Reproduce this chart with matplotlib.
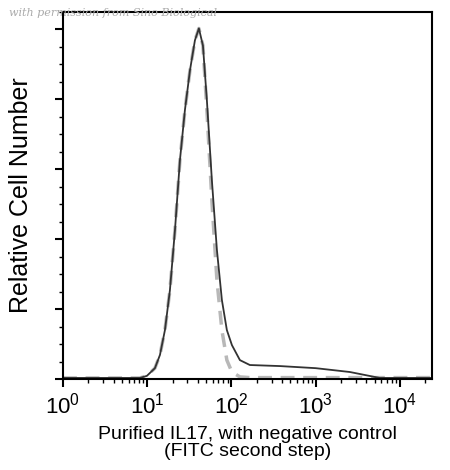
import matplotlib
matplotlib.use("Agg")
import matplotlib.pyplot as plt
import numpy as np
from matplotlib.ticker import LogLocator, NullFormatter, MultipleLocator

plt.rcParams['font.family'] = ['Liberation Sans', 'DejaVu Sans']

solid_logx = [0.0, 0.913, 0.996, 1.091, 1.151, 1.210, 1.269, 1.329, 1.388, 1.447, 1.507, 1.566, 1.613,
              1.661, 1.708, 1.767, 1.827, 1.886, 1.945, 2.005, 2.100, 2.218, 2.574, 3.0, 3.405, 3.760, 4.38]
solid_y = [3, 3, 9, 31, 69, 140, 254, 426, 626, 769, 883, 969, 1003,
           954, 797, 569, 369, 226, 140, 97, 54, 40, 37, 31, 20, 3, 3]
dash_logx = [0.0, 0.913, 0.996, 1.091, 1.151, 1.210, 1.269, 1.329, 1.388, 1.447, 1.507, 1.566, 1.613,
             1.661, 1.708, 1.767, 1.827, 1.886, 1.945, 2.005, 2.100, 2.218, 4.38]
dash_y = [3, 3, 9, 31, 69, 140, 254, 426, 626, 769, 883, 969, 1003,
          954, 769, 511, 283, 140, 54, 20, 6, 4, 4]

fig = plt.figure(figsize=(4.5, 4.7), dpi=100)
ax = fig.add_axes([63/450, 1-379/470, 369/450, 367/470])
ax.plot(10**np.array(dash_logx), dash_y, color='#b8b8b8', lw=2.5, ls=(0, (4, 2.5)))
ax.plot(10**np.array(solid_logx), solid_y, color='#333333', lw=1.3)
ax.set_xscale('log')
ax.set_xlim(1, 10**4.38)
ax.set_ylim(0, 1050)
ax.xaxis.set_major_locator(LogLocator(base=10, numticks=10))
ax.xaxis.set_minor_locator(LogLocator(base=10, subs=np.arange(2, 10), numticks=20))
ax.xaxis.set_minor_formatter(NullFormatter())
ax.yaxis.set_major_locator(MultipleLocator(200))
ax.yaxis.set_minor_locator(MultipleLocator(50))
ax.set_yticklabels([])
ax.tick_params(axis='both', which='major', length=6, width=1.5, labelsize=16)
ax.tick_params(axis='both', which='minor', length=3, width=1)
for s in ax.spines.values():
    s.set_linewidth(1.5)
ax.set_ylabel('Relative Cell Number', fontsize=18, labelpad=12)
ax.set_xlabel('Purified IL17, with negative control\n(FITC second step)', fontsize=14, labelpad=6, linespacing=1.0)
fig.text(0.02, 0.965, 'with permission from Sino Biological', fontsize=8, style='italic',
         color='#aaaaaa', family='DejaVu Serif')
fig.savefig('out.png', dpi=100)
